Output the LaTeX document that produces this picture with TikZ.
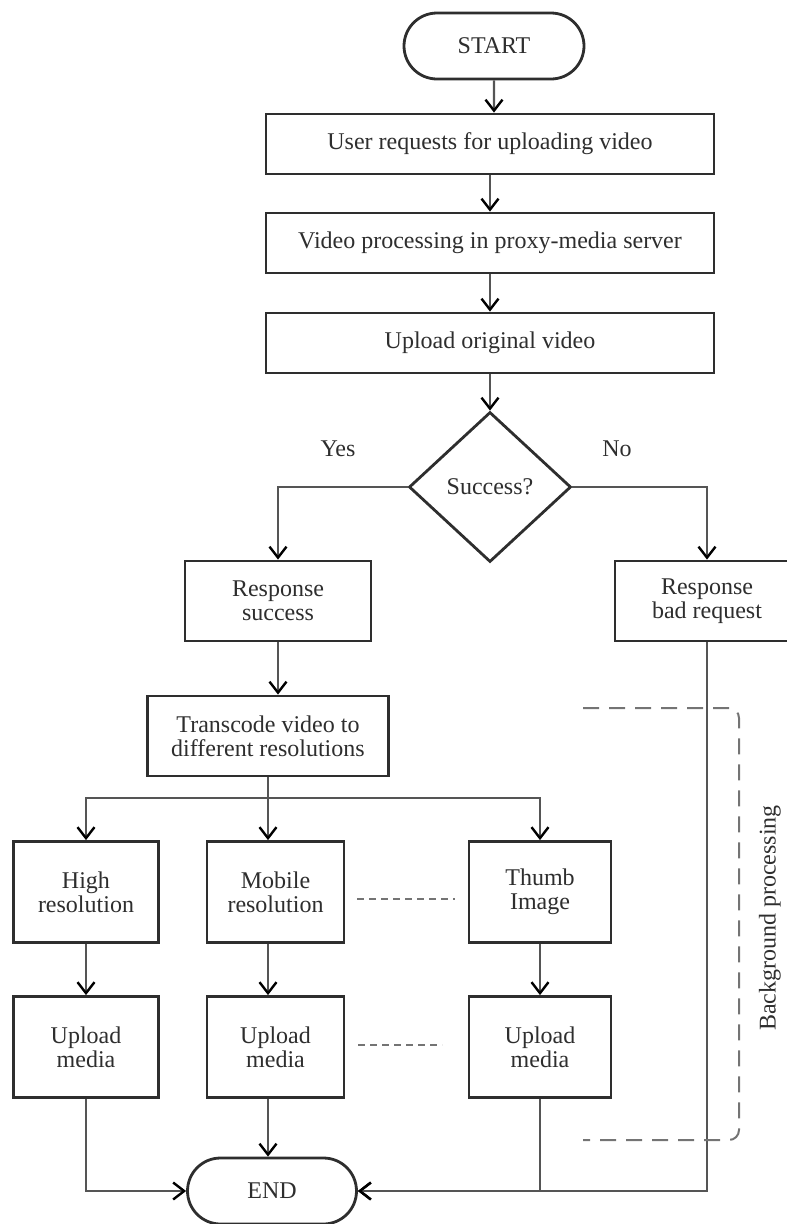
\documentclass[tikz,border=0pt]{standalone}
\usepackage{fontspec}
\setmainfont{Liberation Serif}
\usetikzlibrary{arrows.meta,shapes.geometric,shapes.misc}

\definecolor{ink}{HTML}{2E2E2E}
\definecolor{wire}{HTML}{555555}
\definecolor{hatch}{HTML}{747474}

\begin{document}
\begin{tikzpicture}[x=1pt,y=-1pt,
  txt/.style={text=ink, font=\fontsize{24}{24}\selectfont},
  box/.style={txt, draw=ink, line width=2.8pt, fill=white, align=center, inner sep=0pt},
  stepbox/.style 2 args={box, rectangle, minimum width=#1, minimum height=#2},
  terminal/.style={box, rounded rectangle, minimum width=#1, minimum height=66pt},
  decision/.style={box, diamond, minimum width=162pt, minimum height=150pt},
  link/.style={draw=wire, line width=2.2pt},
  flow/.style={link, -{Straight Barb[length=11pt,width=17pt,line width=2.4pt,color=black]}},
  dotted link/.style={draw=hatch, line width=2pt, dash pattern=on 7pt off 5pt},
  bracket/.style={draw=hatch, line width=2pt, dash pattern=on 16pt off 10pt, rounded corners=10pt}]

  \useasboundingbox (0,0) rectangle (787,1224);
  \clip (0,0) rectangle (787,1224);

  % main column
  \node[terminal=180pt] (start) at (494,46) {START};
  \node[stepbox={448pt}{60pt}] (req)  at (490,144) {User requests for uploading video};
  \node[stepbox={448pt}{60pt}] (proc) at (490,243) {Video processing in proxy-media server};
  \node[stepbox={448pt}{60pt}] (orig) at (490,343) {Upload original video};
  \node[decision] (ok) at (490,487) {Success?};

  \node[txt] (yes) at (338,449) {Yes};
  \node[txt] (no)  at (617,449) {No};

  % responses
  \node[stepbox={186pt}{80pt}] (good) at (278,601) {Response\\success};
  \node[stepbox={184pt}{80pt}] (bad)  at (707,601) {Response\\bad request};

  % transcoding
  \node[stepbox={241pt}{80pt}] (trans) at (268,736) {Transcode video to\\different resolutions};
  \coordinate (fork) at (268,798);

  \node[stepbox={145pt}{101pt}] (high)  at (86,892)    {High\\resolution};
  \node[stepbox={137pt}{101pt}] (mob)   at (275.5,892) {Mobile\\resolution};
  \node[stepbox={142pt}{101pt}] (thumb) at (540,892)   {Thumb\\Image};

  \node[stepbox={145pt}{101pt}] (upH) at (86,1047)    {Upload\\media};
  \node[stepbox={137pt}{101pt}] (upM) at (275.5,1047) {Upload\\media};
  \node[stepbox={142pt}{101pt}] (upT) at (540,1047)   {Upload\\media};

  \node[terminal=169pt] (finish) at (272,1191) {END};

  % connectors
  \draw[flow] (start) -- (start |- req.north);
  \draw[flow] (req) -- (proc);
  \draw[flow] (proc) -- (orig);
  \draw[flow] (orig) -- (ok.north);
  \draw[flow] (ok.west) -| (good.north);
  \draw[flow] (ok.east) -| (bad.north);
  \draw[flow] (good.south) -- (good.south |- trans.north);

  \draw[link] (trans.south -| fork) -- (fork);
  \draw[flow] (fork) -| (high.north);
  \draw[flow] (fork) -- (fork |- mob.north);
  \draw[flow] (fork) -| (thumb.north);

  \draw[flow] (high) -- (upH);
  \draw[flow] (fork |- mob.south) -- (fork |- upM.north);
  \draw[flow] (thumb) -- (upT);

  \draw[flow] (upH.south) |- (finish.west);
  \draw[flow] (fork |- upM.south) -- (fork |- finish.north);
  \draw[flow] (upT.south) |- (finish.east);
  \draw[flow] (bad.south) |- (finish.east);

  % elided columns between mobile and thumbnail
  \coordinate (gapA) at (357,899);
  \coordinate (gapB) at (455,899);
  \coordinate (gapC) at (358,1045);
  \coordinate (gapD) at (442,1045);
  \draw[dotted link] (gapA) -- (gapB);
  \draw[dotted link] (gapC) -- (gapD);

  % background processing bracket
  \coordinate (brA) at (583,708);
  \coordinate (brB) at (739,708);
  \coordinate (brC) at (739,1140);
  \coordinate (brD) at (583,1140);
  \draw[bracket] (brA) -- (brB) -- (brC) -- (brD);
  \node[txt, rotate=90] (bg) at (770,918) {Background processing};
\end{tikzpicture}
\end{document}
